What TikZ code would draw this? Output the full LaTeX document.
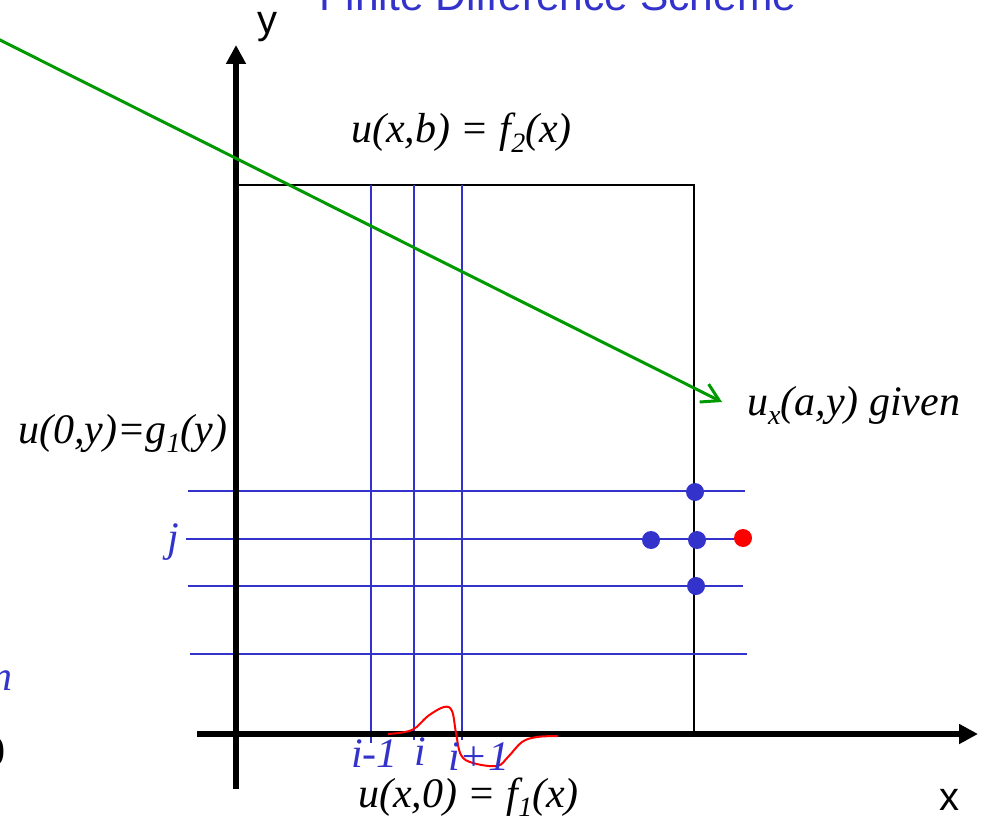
\documentclass[tikz,border=0pt]{standalone}
\usepackage{fontspec}
\setmainfont{Liberation Serif}
\newfontfamily\arialfont{Liberation Sans}
\usetikzlibrary{arrows.meta}
\definecolor{gblue}{HTML}{3333CC}
\definecolor{ggreen}{HTML}{009900}
\tikzset{
  gridline/.style={gblue,line width=1.6pt},
  axisline/.style={line width=6pt,-{Triangle[length=19pt,width=19pt]}},
  dotnode/.style={circle,fill=gblue,inner sep=0pt,minimum size=18pt},
  reddot/.style={circle,fill=red,inner sep=0pt,minimum size=18pt},
  mlabel/.style={inner sep=0pt,font=\fontsize{42}{46}\selectfont\itshape},
  blabel/.style={mlabel,text=gblue},
  alabel/.style={inner sep=0pt,font=\fontsize{40}{44}\selectfont\arialfont},
}
\newcommand{\mysub}[1]{\raisebox{-0.22em}{\fontsize{28}{28}\selectfont #1}}
\begin{document}
\begin{tikzpicture}[x=1pt,y=-1pt]
\useasboundingbox (0,0) rectangle (982,818);
\clip (0,0) rectangle (982,818);
% domain rectangle
\draw[line width=1.5pt] (237,185) rectangle (694,735);
% vertical grid lines
\coordinate (v1t) at (371,185); \coordinate (v1b) at (371,743);
\coordinate (v2t) at (414,185); \coordinate (v2b) at (414,740);
\coordinate (v3t) at (462,185); \coordinate (v3b) at (462,740);
\draw[gridline] (v1t) -- (v1b);
\draw[gridline] (v2t) -- (v2b);
\draw[gridline] (v3t) -- (v3b);
% horizontal grid lines
\coordinate (h1l) at (188,491); \coordinate (h1r) at (745,491);
\coordinate (h2l) at (186,539); \coordinate (h2r) at (744,539);
\coordinate (h3l) at (188,586); \coordinate (h3r) at (743,586);
\coordinate (h4l) at (190,654); \coordinate (h4r) at (747,654);
\draw[gridline] (h1l) -- (h1r);
\draw[gridline] (h2l) -- (h2r);
\draw[gridline] (h3l) -- (h3r);
\draw[gridline] (h4l) -- (h4r);
% axes
\coordinate (xs) at (197,734); \coordinate (xe) at (978,734);
\coordinate (ys) at (236,789); \coordinate (ye) at (236,45);
\draw[axisline] (xs) -- (xe);
\draw[axisline] (ys) -- (ye);
% green arrow
\coordinate (gs) at (-2,39); \coordinate (ge) at (722,402);
\draw[ggreen,line width=3pt,-{Straight Barb[length=17pt,width=20pt,line width=3pt]}] (gs) -- (ge);
% red curve
\draw[red,line width=2pt] plot[smooth,tension=0.6] coordinates {(388,734) (412,730) (428,716) (444,707) (452,711) (456,733) (461,755) (473,763) (497,766) (508,757) (522,742) (537,737) (558,736)};
% dots
\node[dotnode] (d1) at (695,492) {};
\node[dotnode] (d2) at (651,540) {};
\node[dotnode] (d3) at (697,540) {};
\node[dotnode] (d4) at (696,586) {};
\node[reddot] (d5) at (743,538) {};
% labels
\node[alabel,font=\fontsize{42.5}{46}\selectfont\arialfont,text=gblue,anchor=base] (title) at (558,11) {Finite Difference Scheme};
\node[alabel,anchor=base west] (ylab) at (257,34) {y};
\node[alabel,anchor=base west] (xlab) at (939,810) {x};
\node[mlabel,anchor=base west] (top) at (351,143) {u(x,b) = f\mysub{2}(x)};
\node[mlabel,anchor=base west] (left) at (18,443) {u(0,y)=g\mysub{1}(y)};
\node[mlabel,anchor=base west] (right) at (747,415) {u\mysub{x}(a,y) given};
\node[mlabel,anchor=base west] (bot) at (358,807) {u(x,0) = f\mysub{1}(x)};
\node[blabel,anchor=base east] (jl) at (179,551) {j};
\node[blabel,anchor=base west] (im1) at (351,767) {i-1};
\node[blabel,anchor=base west] (ii) at (414,765) {i};
\node[blabel,anchor=base west] (ip1) at (448,770) {i+1};
\node[blabel,anchor=base east] (nl) at (13,690) {n};
\node[inner sep=0pt,font=\fontsize{42}{46}\selectfont,anchor=base east] (zl) at (6,765) {0};
\end{tikzpicture}
\end{document}
